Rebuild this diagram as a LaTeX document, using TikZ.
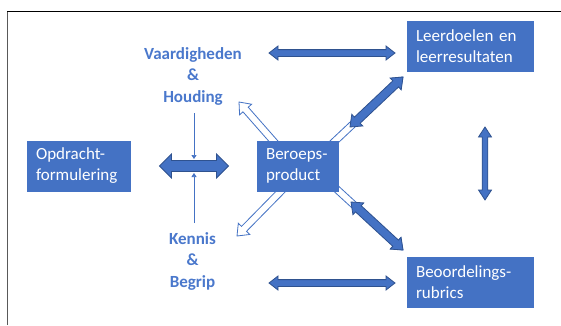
\documentclass[tikz,border=0pt]{standalone}
\usepackage{fontspec}
\setmainfont{Carlito}
\usetikzlibrary{calc,arrows.meta}
\definecolor{boxblue}{HTML}{4472C4}
\definecolor{edgeblue}{HTML}{2F528F}
\definecolor{lblblue}{HTML}{4A78CC}
% double arrow: #1 style, #2 A, #3 B, #4 half shaft, #5 half head, #6 head length
\newcommand\dblarr[6]{%
  \draw[#1] (#2) -- ($(#2)!#6!(#3)!#5!90:(#3)$) -- ($(#2)!#6!(#3)!#4!90:(#3)$)
    -- ($(#3)!#6!(#2)!#4!-90:(#2)$) -- ($(#3)!#6!(#2)!#5!-90:(#2)$) -- (#3)
    -- ($(#3)!#6!(#2)!#5!90:(#2)$) -- ($(#3)!#6!(#2)!#4!90:(#2)$)
    -- ($(#2)!#6!(#3)!#4!-90:(#3)$) -- ($(#2)!#6!(#3)!#5!-90:(#3)$) -- cycle;}
% single arrow from #2 to #3
\newcommand\sglarr[6]{%
  \draw[#1] ($(#2)!#4!90:(#3)$) -- ($(#3)!#6!(#2)!#4!-90:(#2)$) -- ($(#3)!#6!(#2)!#5!-90:(#2)$)
    -- (#3) -- ($(#3)!#6!(#2)!#5!90:(#2)$) -- ($(#3)!#6!(#2)!#4!90:(#2)$)
    -- ($(#2)!#4!-90:(#3)$) -- cycle;}
\tikzset{
  bluebox/.style={rectangle, fill=boxblue, text=white, inner xsep=9pt, inner ysep=0pt,
    minimum height=51pt, align=left, font=\fontsize{17}{21}\selectfont},
  lbl/.style={text=lblblue, align=center, inner sep=0pt, font=\fontsize{17}{21.5}\selectfont\bfseries},
  solidarr/.style={fill=boxblue, draw=edgeblue, line width=0.8pt, line join=miter},
  hollowarr/.style={fill=white, draw=boxblue, line width=0.8pt, line join=miter},
  thinarr/.style={draw=boxblue, line width=0.6pt, -{Triangle[width=5pt,length=4pt]}}
}
\begin{document}
\begin{tikzpicture}[x=1pt,y=-1pt]
\useasboundingbox (0,0) rectangle (561,325);
\fill[white] (0,0) rectangle (561,325);
% frame
\coordinate (fbl) at (7,325);
\coordinate (ftl) at (7,11);
\coordinate (ftr) at (561,11);
\draw[gray!70!black, line width=1pt] (fbl) -- (ftl);
\draw[black, line width=1pt] (ftl) -- (ftr);

% hollow arrows (under boxes)
\coordinate (hulA) at (290,160);  \coordinate (hulB) at (239,102);
\coordinate (hllA) at (292,180);  \coordinate (hllB) at (237,236);
\coordinate (hurA) at (318,157);  \coordinate (hurB) at (403,77);
\coordinate (hlrA) at (318,172);  \coordinate (hlrB) at (403,250);
\sglarr{hollowarr}{hulA}{hulB}{3.5pt}{8pt}{10pt}
\sglarr{hollowarr}{hllA}{hllB}{3.5pt}{8pt}{10pt}
\sglarr{hollowarr}{hurA}{hurB}{3.5pt}{7.5pt}{10pt}
\sglarr{hollowarr}{hlrA}{hlrB}{3.5pt}{7.5pt}{10pt}

% boxes
\node[bluebox, text width=109pt] (leer) at (470.5,46.5) {Leerdoelen en\\leerresultaten};
\node[bluebox, text width=109pt] (beo) at (470.5,282.5) {Beoordelings-\\rubrics};
\node[bluebox, text width=86pt] (opd) at (79,166) {Opdracht-\\formulering};
\node[bluebox, text width=64pt] (ber) at (298,166) {Beroeps-\\product};

% labels
\node[lbl] (vaa) at (193,76) {Vaardigheden\\\&\\Houding};
\node[lbl] (ken) at (192.5,261) {Kennis\\\&\\Begrip};

% solid double arrows
\coordinate (tA) at (269,53);  \coordinate (tB) at (395,53);
\coordinate (bA) at (269,283); \coordinate (bB) at (395,283);
\coordinate (lA) at (159.5,166); \coordinate (lB) at (228.5,166);
\coordinate (vA) at (485,127); \coordinate (vB) at (485,200);
\coordinate (dA) at (350,127); \coordinate (dB) at (403,77);
\coordinate (eA) at (351,202); \coordinate (eB) at (403,250);
\dblarr{solidarr}{tA}{tB}{3.4pt}{7pt}{9pt}
\dblarr{solidarr}{bA}{bB}{3.4pt}{7pt}{9pt}
\dblarr{solidarr}{lA}{lB}{5.5pt}{12pt}{12pt}
\dblarr{solidarr}{vA}{vB}{2.8pt}{6.5pt}{10pt}
\dblarr{solidarr}{dA}{dB}{4.2pt}{8pt}{10pt}
\dblarr{solidarr}{eA}{eB}{4.2pt}{8pt}{10pt}

% thin arrows
\coordinate (s1) at (194,113); \coordinate (e1) at (194,159);
\coordinate (s2) at (194,223); \coordinate (e2) at (194,173);
\draw[thinarr] (s1) -- (e1);
\draw[thinarr] (s2) -- (e2);
\end{tikzpicture}
\end{document}
